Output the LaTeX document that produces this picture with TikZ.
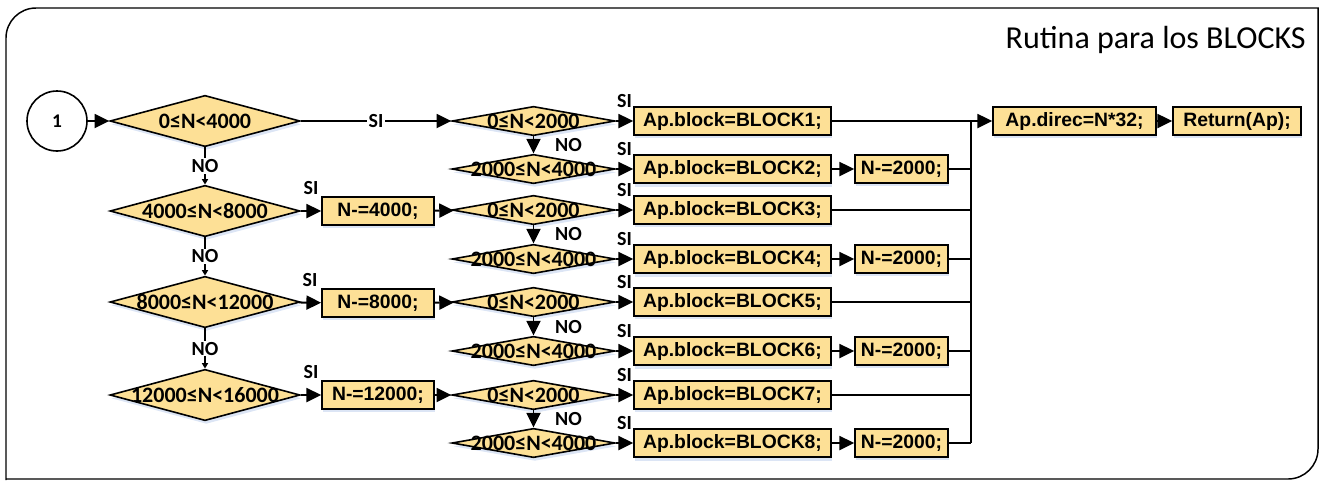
\documentclass[tikz,border=0pt]{standalone}
\usepackage{fontspec}
\setmainfont{Liberation Sans}
\newfontfamily\calfont{Carlito}
\usetikzlibrary{shapes.geometric,arrows.meta,shadows}
\definecolor{boxfill}{RGB}{253,224,150}
\definecolor{shadowc}{RGB}{196,212,238}
\begin{document}
\begin{tikzpicture}[x=0.75pt,y=-0.75pt,
  shd/.style={drop shadow={fill=shadowc,opacity=0.6,shadow xshift=1pt,shadow yshift=-2.5pt}},
  proc/.style={draw=black,line width=1.3pt,fill=boxfill,rectangle,inner sep=0pt,minimum height=20.5pt,font=\bfseries\fontsize{14.5}{16}\selectfont,shd},
  bigdec/.style={draw=black,line width=1.2pt,fill=boxfill,diamond,inner sep=0pt,minimum width=142.5pt,minimum height=38.5pt,shd},
  smalldec/.style={draw=black,line width=1.2pt,fill=boxfill,diamond,inner sep=0pt,minimum width=122.25pt,minimum height=22pt,shd},
  dtext/.style={font=\calfont\bfseries\fontsize{16.5}{18}\selectfont,inner sep=0pt},
  lbl/.style={font=\calfont\bfseries\fontsize{15}{17}\selectfont,inner sep=1pt},
  conn/.style={line width=1.4pt},
  arr/.style={conn,-{Triangle[length=11pt,width=10.5pt]}},
  sarr/.style={conn,-{Triangle[length=4pt,width=4.5pt]}},
]
\useasboundingbox (0,0) rectangle (1320,480);
% frame
\draw[line width=1.1pt,line join=miter] (6,480) -- (6,38) arc[start angle=180,end angle=270,radius=30] -- (1318,8) -- (1318,449) arc[start angle=0,end angle=90,radius=30] -- (6,479);
\node[anchor=east,font=\calfont\fontsize{24}{28}\selectfont,inner sep=0pt] (title) at (1306,40) {Rutina para los BLOCKS};

% start
\node[circle,draw=black,line width=1.2pt,minimum size=45pt,inner sep=0pt,fill=white,font=\calfont\bfseries\fontsize{14.5}{16}\selectfont] (c1) at (57,121) {1};

% left column
\node[bigdec,label={[dtext]center:0≤N<4000}] (d1) at (205,121) {};
\node[bigdec,label={[dtext]center:4000≤N<8000}] (d2) at (205,211) {};
\node[bigdec,label={[dtext]center:8000≤N<12000}] (d3) at (205,302) {};
\node[bigdec,label={[dtext]center:12000≤N<16000}] (d4) at (205,395) {};

\node[proc,minimum width=84pt] (n1) at (378,211) {N-=4000;};
\node[proc,minimum width=84pt] (n2) at (378,303) {N-=8000;};
\node[proc,minimum width=84pt] (n3) at (378,395) {N-=12000;};

% middle column
\node[smalldec,label={[dtext]center:0≤N<2000}] (s1) at (533.5,121) {};
\node[smalldec,label={[dtext]center:2000≤N<4000}] (s2) at (533.5,169) {};
\node[smalldec,label={[dtext]center:0≤N<2000}] (s3) at (533.5,210) {};
\node[smalldec,label={[dtext]center:2000≤N<4000}] (s4) at (533.5,259) {};
\node[smalldec,label={[dtext]center:0≤N<2000}] (s5) at (533.5,302) {};
\node[smalldec,label={[dtext]center:2000≤N<4000}] (s6) at (533.5,351) {};
\node[smalldec,label={[dtext]center:0≤N<2000}] (s7) at (533.5,395) {};
\node[smalldec,label={[dtext]center:2000≤N<4000}] (s8) at (533.5,443) {};

\node[proc,minimum width=147.75pt] (b1) at (732.5,121) {Ap.block=BLOCK1;};
\node[proc,minimum width=147.75pt,minimum height=21.5pt] (b2) at (732.5,169) {Ap.block=BLOCK2;};
\node[proc,minimum width=147.75pt] (b3) at (732.5,210) {Ap.block=BLOCK3;};
\node[proc,minimum width=147.75pt,minimum height=21.5pt] (b4) at (732.5,259) {Ap.block=BLOCK4;};
\node[proc,minimum width=147.75pt] (b5) at (732.5,302) {Ap.block=BLOCK5;};
\node[proc,minimum width=147.75pt,minimum height=21.5pt] (b6) at (732.5,351) {Ap.block=BLOCK6;};
\node[proc,minimum width=147.75pt] (b7) at (732.5,395) {Ap.block=BLOCK7;};
\node[proc,minimum width=147.75pt,minimum height=21.5pt] (b8) at (732.5,443) {Ap.block=BLOCK8;};

\node[proc,minimum width=69.75pt,minimum height=21pt] (m2) at (901.5,169) {N-=2000;};
\node[proc,minimum width=69.75pt,minimum height=21pt] (m4) at (901.5,259) {N-=2000;};
\node[proc,minimum width=69.75pt,minimum height=21pt] (m6) at (901.5,351) {N-=2000;};
\node[proc,minimum width=69.75pt,minimum height=21pt] (m8) at (901.5,443) {N-=2000;};

\node[proc,minimum width=122.25pt,minimum height=21pt] (ad) at (1074.5,121) {Ap.direc=N*32;};
\node[proc,minimum width=96pt,minimum height=21pt] (rt) at (1237,121) {Return(Ap);};

\coordinate (bt) at (971,121);
\coordinate (bb) at (971,443);

% connectors left
\draw[arr] (c1) -- (d1);
\draw[arr] (d1) -- node[lbl,fill=white]{SI} (s1);
\draw[sarr] (d1) -- node[lbl,fill=white]{NO} (d2);
\draw[sarr] (d2) -- node[lbl,fill=white]{NO} (d3);
\draw[sarr] (d3) -- node[lbl,fill=white]{NO} (d4);
\draw[arr] (d2) -- node[lbl,anchor=south,yshift=10.5pt]{SI} (n1);
\draw[arr] (d3) -- node[lbl,anchor=south,yshift=10.5pt]{SI} (n2);
\draw[arr] (d4) -- node[lbl,anchor=south,yshift=10.5pt]{SI} (n3);
\draw[arr] (n1) -- (s3);
\draw[arr] (n2) -- (s5);
\draw[arr] (n3) -- (s7);

% middle NO arrows
\draw[arr] (s1) -- node[lbl,fill=white,anchor=west,xshift=14.5pt]{NO} (s2);
\draw[arr] (s3) -- node[lbl,fill=white,anchor=west,xshift=14.5pt]{NO} (s4);
\draw[arr] (s5) -- node[lbl,fill=white,anchor=west,xshift=14.5pt]{NO} (s6);
\draw[arr] (s7) -- node[lbl,fill=white,anchor=west,xshift=14.5pt]{NO} (s8);

% SI arrows to blocks
\draw[arr] (s1) -- node[lbl,anchor=south,yshift=8.5pt]{SI} (b1);
\draw[arr] (s2) -- node[lbl,anchor=south,yshift=8.5pt]{SI} (b2);
\draw[arr] (s3) -- node[lbl,anchor=south,yshift=8.5pt]{SI} (b3);
\draw[arr] (s4) -- node[lbl,anchor=south,yshift=8.5pt]{SI} (b4);
\draw[arr] (s5) -- node[lbl,anchor=south,yshift=8.5pt]{SI} (b5);
\draw[arr] (s6) -- node[lbl,anchor=south,yshift=8.5pt]{SI} (b6);
\draw[arr] (s7) -- node[lbl,anchor=south,yshift=8.5pt]{SI} (b7);
\draw[arr] (s8) -- node[lbl,anchor=south,yshift=8.5pt]{SI} (b8);

\draw[arr] (b2) -- (m2);
\draw[arr] (b4) -- (m4);
\draw[arr] (b6) -- (m6);
\draw[arr] (b8) -- (m8);

% bus
\draw[conn] (bt) -- (bb);
\draw[conn] (m2) -- (m2 -| bt);
\draw[conn] (b3) -- (b3 -| bt);
\draw[conn] (m4) -- (m4 -| bt);
\draw[conn] (b5) -- (b5 -| bt);
\draw[conn] (m6) -- (m6 -| bt);
\draw[conn] (b7) -- (b7 -| bt);
\draw[conn] (m8) -- (bb);
\draw[arr] (b1) -- (ad);
\draw[arr] (ad) -- (rt);
\end{tikzpicture}
\end{document}
